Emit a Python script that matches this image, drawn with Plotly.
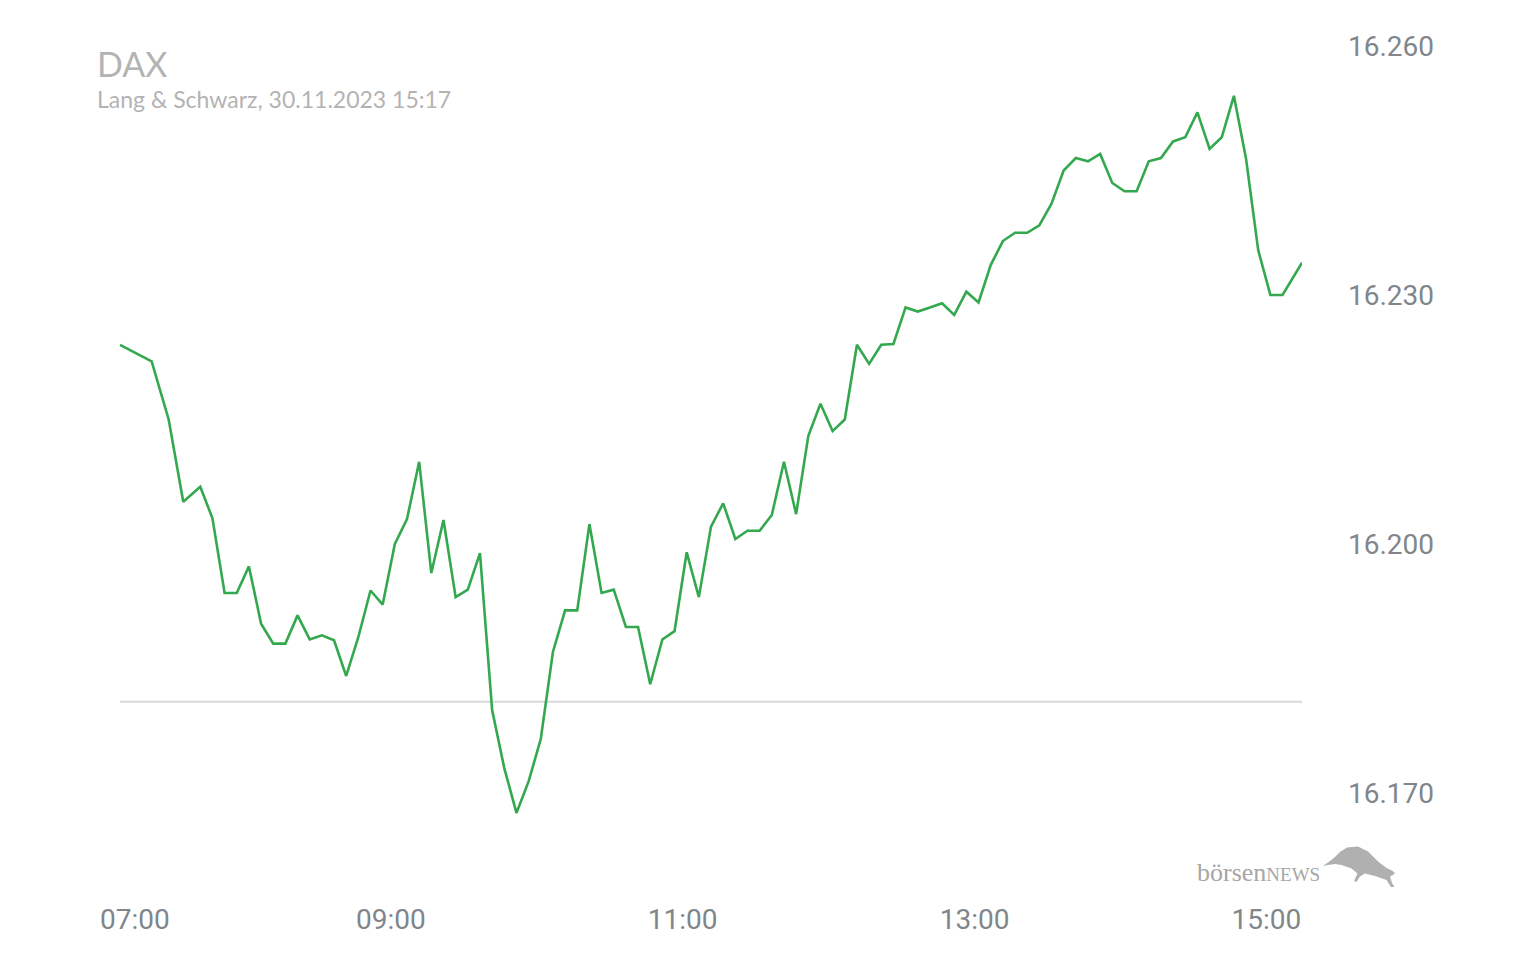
import plotly.graph_objects as go

DAY = "2023-11-30 "

times = [
    "07:07", "07:20", "07:27", "07:33", "07:40",
    "07:45", "07:50", "07:55",
    "08:00", "08:05", "08:10", "08:15", "08:20", "08:25", "08:30", "08:35", "08:40", "08:45", "08:50", "08:55",
    "09:00", "09:05", "09:10", "09:15", "09:20", "09:25", "09:30", "09:35", "09:40", "09:45", "09:50", "09:55",
    "10:00", "10:05", "10:10", "10:15", "10:20", "10:25", "10:30", "10:35", "10:40", "10:45", "10:50", "10:55",
    "11:00", "11:05", "11:10", "11:15", "11:20", "11:25", "11:30", "11:35", "11:40", "11:45", "11:50", "11:55",
    "12:00", "12:05", "12:10", "12:15", "12:20", "12:25", "12:30", "12:35", "12:40", "12:45", "12:50", "12:55",
    "13:00", "13:05", "13:10", "13:15", "13:20", "13:25", "13:30", "13:35", "13:40", "13:45", "13:50", "13:55",
    "14:00", "14:05", "14:10", "14:15", "14:20", "14:25", "14:30", "14:35", "14:40", "14:45", "14:50", "14:55",
    "15:00", "15:05", "15:13",
]

prices = [
    16224.0, 16222.0, 16215.0, 16205.1, 16206.9,
    16203.1, 16194.1, 16194.1,
    16197.3, 16190.4, 16188.0, 16188.0, 16191.4, 16188.5, 16189.0, 16188.4, 16184.1, 16188.8, 16194.4, 16192.7,
    16200.0, 16203.0, 16209.9, 16196.5, 16202.9, 16193.6, 16194.5, 16198.9, 16180.0, 16173.0, 16167.6, 16171.4,
    16176.5, 16187.0, 16192.0, 16192.0, 16202.4, 16194.1, 16194.5, 16190.0, 16190.0, 16183.1, 16188.5, 16189.5,
    16199.0, 16193.6, 16202.1, 16204.9, 16200.6, 16201.6, 16201.6, 16203.5, 16209.9, 16203.6, 16213.0, 16216.9,
    16213.6, 16215.0, 16224.0, 16221.7, 16224.0, 16224.1, 16228.5, 16228.0, 16228.5, 16229.0, 16227.6, 16230.4,
    16229.1, 16233.6, 16236.5, 16237.5, 16237.5, 16238.4, 16241.0, 16245.0, 16246.5, 16246.1, 16247.0, 16243.5,
    16242.5, 16242.5, 16246.1, 16246.5, 16248.5, 16249.0, 16252.0, 16247.6, 16249.0, 16254.0, 16246.4, 16235.4,
    16230.0, 16230.0, 16233.9,
]

prev_close = 16181.0

x_tick_times = ["09:00", "11:00", "13:00", "15:00"]
x_first_tick = "07:00"
y_ticks = [16170, 16200, 16230, 16260]

title_text = "DAX"
subtitle_text = "Lang & Schwarz, 30.11.2023 15:17"

x_dates = [DAY + t for t in times]

# layout geometry (pixels)
W_PX, H_PX = 1536, 960
L, R, T, B = 103, 234, 30, 100
PW = W_PX - L - R
PH = H_PX - T - B


def px_x(px):
    return (px - L) / PW


def px_y(py):
    return (H_PX - B - py) / PH


GREEN = "#34a84e"
TICK_GRAY = "#80868b"
TITLE_GRAY = "#b3b3b3"

fig = go.Figure()
fig.add_trace(go.Scatter(
    x=x_dates, y=prices, mode="lines",
    line=dict(color=GREEN, width=2.6),
    hoverinfo="x+y", showlegend=False,
))
# helper trace so the overlay axis (first tick label) is drawn
fig.add_trace(go.Scatter(
    x=[x_dates[0]], y=[prev_close], xaxis="x2", mode="markers",
    marker=dict(opacity=0), hoverinfo="skip", showlegend=False,
))

x_range = [DAY + x_first_tick, x_dates[-1]]

fig.add_shape(
    type="line", xref="x", yref="y",
    x0=x_dates[0], x1=x_dates[-1], y0=prev_close, y1=prev_close,
    line=dict(color="#d9d9d9", width=2), layer="below",
)

axis_font = dict(family="Roboto, sans-serif", size=28, color=TICK_GRAY)

fig.update_layout(
    width=W_PX, height=H_PX,
    margin=dict(l=L, r=R, t=T, b=B, pad=0),
    paper_bgcolor="white", plot_bgcolor="white",
    separators=",.",
    xaxis=dict(
        type="date", range=x_range,
        tickvals=[DAY + t for t in x_tick_times],
        tickformat="%H:%M", tickfont=axis_font,
        showgrid=False, zeroline=False, showline=False,
        ticks="", ticklabelstandoff=40, ticklabelshift=-4,
    ),
    xaxis2=dict(
        type="date", overlaying="x", matches="x", anchor="y", side="bottom",
        tickvals=[DAY + x_first_tick],
        tickformat="%H:%M", tickfont=axis_font,
        ticklabelposition="outside right",
        showgrid=False, zeroline=False, showline=False,
        ticks="", ticklabelstandoff=40, ticklabelshift=-3,
    ),
    yaxis=dict(
        range=[16170 - (H_PX - B - 793) / 8.3, 16260 + (46 - T) / 8.3],
        side="right", tickvals=y_ticks, tickformat=",d",
        tickfont=axis_font, showgrid=False, zeroline=False, showline=False,
        ticks="", ticklabelstandoff=45,
    ),
    hovermode="closest",
)

fig.add_annotation(
    xref="paper", yref="paper", x=px_x(95), y=px_y(63),
    xanchor="left", yanchor="middle", showarrow=False,
    text=title_text, font=dict(family="Lato, sans-serif", size=34, color=TITLE_GRAY),
)
fig.add_annotation(
    xref="paper", yref="paper", x=px_x(95), y=px_y(99),
    xanchor="left", yanchor="middle", showarrow=False,
    text=subtitle_text, font=dict(family="Lato, sans-serif", size=23, color=TITLE_GRAY),
)

# watermark
fig.add_annotation(
    xref="paper", yref="paper", x=px_x(1322), y=px_y(873),
    xanchor="right", yanchor="middle", showarrow=False,
    text="börsen<span style='font-size:19px'>NEWS</span>",
    font=dict(family="Liberation Serif, DejaVu Serif, serif", size=26, color="#a6a6a6"),
)
bull = [(1323, 866), (1330, 861), (1335, 857), (1340, 852), (1347, 847.5), (1358, 846.5),
        (1368, 851.5), (1378, 861.5), (1386.5, 868), (1392, 870.5), (1395, 873), (1393, 875),
        (1390, 876.5), (1392, 883), (1394.5, 887), (1391, 887), (1386.5, 880), (1375, 876),
        (1365, 873.5), (1360, 876.5), (1356.5, 882), (1354, 881), (1357.5, 873.5),
        (1351.5, 868.5), (1341.5, 865), (1335, 864), (1328, 865)]
path = "M " + " L ".join(f"{px_x(a):.5f},{px_y(b):.5f}" for a, b in bull) + " Z"
fig.add_shape(type="path", xref="paper", yref="paper", path=path,
              fillcolor="#b0b0b0", line=dict(width=0))

fig.write_html("out.html")
